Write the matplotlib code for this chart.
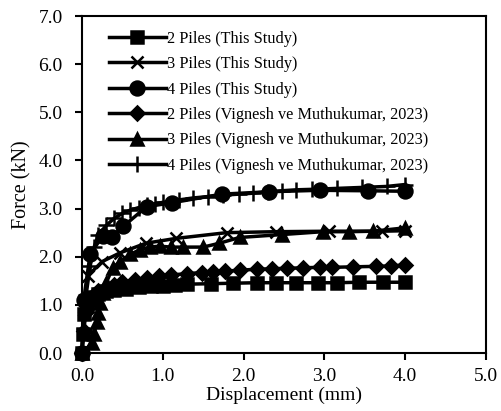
import matplotlib
matplotlib.use('Agg')
import matplotlib.pyplot as plt
from matplotlib.ticker import FormatStrFormatter

plt.rcParams['font.family'] = ['Liberation Serif', 'DejaVu Serif']

# 2 Piles (This Study) - squares
d_2p = [0, 0.01, 0.03, 0.06, 0.1, 0.15, 0.2, 0.3, 0.4, 0.55, 0.7, 0.85, 1.0, 1.15,
        1.3, 1.6, 1.87, 2.16, 2.4, 2.65, 2.92, 3.16, 3.43, 3.72, 4.0]
f_2p = [0, 0.4, 0.8, 1.0, 1.1, 1.17, 1.22, 1.28, 1.31, 1.34, 1.37, 1.39, 1.4, 1.42,
        1.43, 1.44, 1.45, 1.46, 1.46, 1.46, 1.46, 1.46, 1.47, 1.47, 1.47]

# 3 Piles (This Study) - x
d_3p = [0, 0.02, 0.07, 0.25, 0.47, 0.79, 1.16, 1.79, 2.4, 3.06, 3.71, 4.0]
f_3p = [0, 0.9, 1.6, 1.9, 2.08, 2.28, 2.38, 2.5, 2.52, 2.53, 2.53, 2.54]

# 4 Piles (This Study) - circles
d_4p = [0, 0.02, 0.1, 0.26, 0.37, 0.51, 0.8, 1.11, 1.73, 2.32, 2.94, 3.54, 4.0]
f_4p = [0, 1.1, 2.05, 2.44, 2.42, 2.63, 3.04, 3.12, 3.3, 3.35, 3.38, 3.37, 3.36]

# 2 Piles (Vignesh ve Muthukumar, 2023) - diamonds
d_2v = [0, 0.02, 0.05, 0.1, 0.15, 0.2, 0.3, 0.4, 0.5, 0.65, 0.8, 0.95, 1.1, 1.3,
        1.48, 1.62, 1.77, 1.95, 2.16, 2.35, 2.54, 2.73, 2.94, 3.1, 3.35, 3.64, 3.83, 4.0]
f_2v = [0, 0.45, 0.85, 1.1, 1.2, 1.28, 1.36, 1.42, 1.47, 1.52, 1.56, 1.6, 1.62, 1.65,
        1.67, 1.69, 1.7, 1.72, 1.74, 1.75, 1.76, 1.77, 1.78, 1.78, 1.79, 1.8, 1.81, 1.83]

# 3 Piles (Vignesh ve Muthukumar, 2023) - triangles
d_3v = [0, 0.12, 0.15, 0.18, 0.2, 0.22, 0.26, 0.3, 0.38, 0.47, 0.6, 0.72, 0.84, 0.96,
        1.1, 1.25, 1.5, 1.7, 1.95, 2.47, 2.98, 3.31, 3.6, 4.0]
f_3v = [0, 0.2, 0.4, 0.65, 0.83, 1.04, 1.25, 1.46, 1.77, 1.9, 2.05, 2.15, 2.2, 2.22,
        2.2, 2.2, 2.2, 2.28, 2.4, 2.46, 2.52, 2.52, 2.53, 2.6]

# 4 Piles (Vignesh ve Muthukumar, 2023) - plus
d_4v = [0, 0.02, 0.05, 0.1, 0.15, 0.2, 0.3, 0.4, 0.5, 0.6, 0.7, 0.8, 0.9, 1.0, 1.2,
        1.37, 1.56, 1.75, 1.94, 2.12, 2.3, 2.47, 2.65, 2.85, 3.16, 3.47, 3.77, 4.0]
f_4v = [0, 0.5, 1.2, 1.8, 2.2, 2.45, 2.65, 2.8, 2.9, 2.97, 3.02, 3.07, 3.1, 3.13, 3.18,
        3.22, 3.25, 3.28, 3.3, 3.32, 3.35, 3.37, 3.39, 3.4, 3.42, 3.44, 3.46, 3.5]

series = [
    (d_2p, f_2p, 's', 8, '2 Piles (This Study)'),
    (d_3p, f_3p, 'x', 9, '3 Piles (This Study)'),
    (d_4p, f_4p, 'o', 10, '4 Piles (This Study)'),
    (d_2v, f_2v, 'D', 7, '2 Piles (Vignesh ve Muthukumar, 2023)'),
    (d_3v, f_3v, '^', 9, '3 Piles (Vignesh ve Muthukumar, 2023)'),
    (d_4v, f_4v, '+', 11, '4 Piles (Vignesh ve Muthukumar, 2023)'),
]

fig = plt.figure(figsize=(5.01, 4.11), dpi=100)
ax = fig.add_axes([0.1637, 0.1411, 0.8063, 0.8199])

for d, f, m, ms, lab in series:
    ax.plot(d, f, color='black', linewidth=2.5, marker=m, markersize=ms,
            markeredgewidth=1.8, label=lab, clip_on=False)

ax.set_xlim(0, 5)
ax.set_ylim(0, 7)
ax.set_xticks([0, 1, 2, 3, 4, 5])
ax.set_yticks([0, 1, 2, 3, 4, 5, 6, 7])
ax.xaxis.set_major_formatter(FormatStrFormatter('%.1f'))
ax.yaxis.set_major_formatter(FormatStrFormatter('%.1f'))
ax.tick_params(direction='out', length=5, width=1.5, labelsize=14)
ax.tick_params(axis='x', pad=6)
ax.tick_params(axis='y', pad=9)

for s in ax.spines.values():
    s.set_linewidth(1.5)

ax.set_xlabel('Displacement (mm)', fontsize=14, labelpad=1)
ax.set_ylabel('Force (kN)', fontsize=14.5, labelpad=5)

ax.legend(loc='upper left', bbox_to_anchor=(0.03, 1.0), frameon=False,
          fontsize=11.7, handlelength=3.5, handletextpad=0.1, labelspacing=0.58)

fig.savefig('out.png', dpi=100)
